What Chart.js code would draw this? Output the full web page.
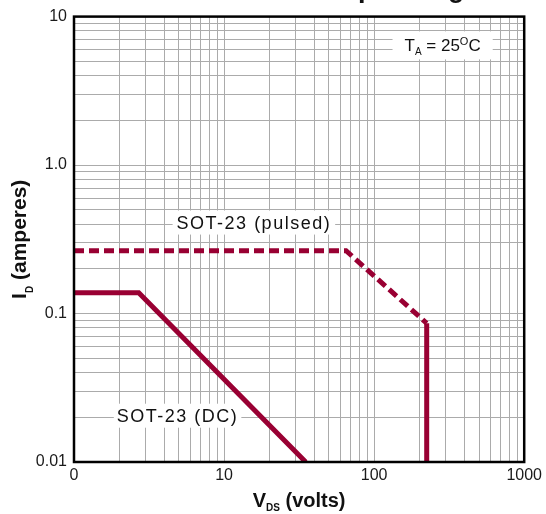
<!DOCTYPE html>
<html lang="en">
<head>
<meta charset="UTF-8">
<title>SOT-23 Safe Operating Area</title>
<style>
  body { margin: 0; background: #fff; }
  #wrap { position: relative; width: 546px; height: 514px; }
</style>
</head>
<body>
<div id="wrap"><canvas id="soaChart"></canvas></div>
<script src="https://cdn.jsdelivr.net/npm/chart.js"></script>
<script>
const xDecades = [1, 10, 100, 1000];
const xDecadeLabels = ['0', '10', '100', '1000'];
const yDecades = [0.01, 0.1, 1, 10];
const yDecadeLabels = ['0.01', '0.1', '1.0', '10'];

const dcVolts = [1, 2.7, 35];
const dcAmps = [0.138, 0.138, 0.01];
const pulsedVolts = [1, 65, 224];
const pulsedAmps = [0.265, 0.265, 0.086];
const limitVolts = [224, 224];
const limitAmps = [0.086, 0.01];

const lineColor = '#990033';
const gridColor = '#ababab';
const fontFamily = 'Arial, "Liberation Sans", Helvetica, sans-serif';

function toPoints(xs, ys) {
  return xs.map((x, i) => ({ x: x, y: ys[i] }));
}

// 1..9 in every decade, so each minor line gets drawn
function logGridTicks(decades) {
  const values = [];
  for (let i = 0; i < decades.length - 1; i++) {
    for (let m = 1; m <= 9; m++) values.push(decades[i] * m);
  }
  values.push(decades[decades.length - 1]);
  return values.map(v => ({ value: v }));
}

function decadeLabel(value, decades, labels) {
  for (let i = 0; i < decades.length; i++) {
    if (Math.abs(value - decades[i]) < decades[i] * 1e-6) return labels[i];
  }
  return '';
}

// text made of runs with their own size/offset (for sub/superscripts)
function runsWidth(ctx, runs) {
  let w = 0;
  runs.forEach(r => {
    ctx.font = (r.bold ? 'bold ' : '') + r.size + 'px ' + fontFamily;
    w += ctx.measureText(r.text).width;
  });
  return w;
}

function drawRuns(ctx, runs, x, y) {
  runs.forEach(r => {
    ctx.font = (r.bold ? 'bold ' : '') + r.size + 'px ' + fontFamily;
    ctx.fillText(r.text, x, y + (r.dy || 0));
    x += ctx.measureText(r.text).width;
  });
}

function boxedLabel(ctx, cx, cy, runs, capH, padX, boxH, spacing) {
  ctx.save();
  ctx.letterSpacing = spacing || '0px';
  ctx.textAlign = 'left';
  ctx.textBaseline = 'alphabetic';
  const w = runsWidth(ctx, runs);
  ctx.fillStyle = '#fff';
  ctx.fillRect(cx - w / 2 - padX, cy - boxH / 2, w + padX * 2, boxH);
  ctx.fillStyle = '#111';
  drawRuns(ctx, runs, cx - w / 2, cy + capH / 2);
  ctx.restore();
}

const decorPlugin = {
  id: 'decor',
  afterDatasetsDraw(chart) {
    const ctx = chart.ctx;
    const a = chart.chartArea;
    const xs = chart.scales.x;
    const ys = chart.scales.y;

    // frame
    ctx.save();
    ctx.strokeStyle = '#000';
    ctx.lineWidth = 2.5;
    ctx.strokeRect(a.left, a.top, a.right - a.left, a.bottom - a.top);
    ctx.restore();

    boxedLabel(ctx, xs.getPixelForValue(15.8), ys.getPixelForValue(0.41),
      [{ text: 'SOT-23 (pulsed)', size: 18 }], 13, 4, 24, '1.5px');
    boxedLabel(ctx, xs.getPixelForValue(4.9), ys.getPixelForValue(0.0205),
      [{ text: 'SOT-23 (DC)', size: 18 }], 13, 3, 24, '1.5px');
    boxedLabel(ctx, xs.getPixelForValue(286), ys.getPixelForValue(6.4), [
      { text: 'T', size: 17 },
      { text: 'A', size: 10, dy: 4 },
      { text: ' = 25', size: 17 },
      { text: 'O', size: 11, dy: -6 },
      { text: 'C', size: 17 }
    ], 12, 12, 28);
  },
  afterDraw(chart) {
    const ctx = chart.ctx;
    const a = chart.chartArea;
    ctx.save();
    ctx.fillStyle = '#111';
    ctx.textAlign = 'left';
    ctx.textBaseline = 'alphabetic';

    // x title
    const xRuns = [
      { text: 'V', size: 20, bold: true },
      { text: 'DS', size: 10, bold: true, dy: 4 },
      { text: ' (volts)', size: 20, bold: true }
    ];
    const xw = runsWidth(ctx, xRuns);
    drawRuns(ctx, xRuns, (a.left + a.right) / 2 - xw / 2, 507);

    // y title
    const yRuns = [
      { text: 'I', size: 21, bold: true },
      { text: 'D', size: 10, bold: true, dy: 7 },
      { text: ' (amperes)', size: 21, bold: true }
    ];
    const yw = runsWidth(ctx, yRuns);
    ctx.translate(26, (a.top + a.bottom) / 2);
    ctx.rotate(-Math.PI / 2);
    drawRuns(ctx, yRuns, -yw / 2, 0);
    ctx.restore();

    // title, cut off by the top edge
    ctx.save();
    ctx.fillStyle = '#111';
    ctx.font = 'bold 27px ' + fontFamily;
    ctx.textBaseline = 'alphabetic';
    const pre = ctx.measureText('Safe ').width;
    ctx.fillText('Safe Operating Area', 337 - pre, -3);
    ctx.restore();
  }
};

new Chart(document.getElementById('soaChart'), {
  type: 'line',
  data: {
    datasets: [
      {
        label: 'SOT-23 (DC)',
        data: toPoints(dcVolts, dcAmps),
        borderColor: lineColor,
        borderWidth: 5,
        pointRadius: 0,
        tension: 0,
        fill: false
      },
      {
        label: 'SOT-23 (pulsed)',
        data: toPoints(pulsedVolts, pulsedAmps),
        borderColor: lineColor,
        borderWidth: 5,
        borderDash: [10, 5],
        borderCapStyle: 'butt',
        pointRadius: 0,
        tension: 0,
        fill: false
      },
      {
        label: 'pulsed limit',
        data: toPoints(limitVolts, limitAmps),
        borderColor: lineColor,
        borderWidth: 5,
        pointRadius: 0,
        tension: 0,
        fill: false
      }
    ]
  },
  options: {
    responsive: true,
    maintainAspectRatio: false,
    animation: false,
    layout: { padding: { top: 14, right: 19, left: 0, bottom: 0 } },
    plugins: {
      legend: { display: false },
      tooltip: { enabled: false }
    },
    scales: {
      x: {
        type: 'logarithmic',
        min: 1,
        max: 1000,
        afterBuildTicks(scale) { scale.ticks = logGridTicks(xDecades); },
        afterFit(scale) { scale.height = 52; },
        grid: { color: gridColor, lineWidth: 1, drawTicks: false },
        border: { display: false },
        ticks: {
          autoSkip: false,
          maxRotation: 0,
          padding: 4,
          color: '#1a1a1a',
          font: { family: fontFamily, size: 16 },
          callback: v => decadeLabel(v, xDecades, xDecadeLabels)
        }
      },
      y: {
        type: 'logarithmic',
        min: 0.01,
        max: 10,
        afterBuildTicks(scale) { scale.ticks = logGridTicks(yDecades); },
        afterFit(scale) { scale.width = 74; },
        grid: { color: gridColor, lineWidth: 1, drawTicks: false },
        border: { display: false },
        ticks: {
          autoSkip: false,
          padding: 7,
          color: '#1a1a1a',
          font: { family: fontFamily, size: 16 },
          callback: v => decadeLabel(v, yDecades, yDecadeLabels)
        }
      }
    }
  },
  plugins: [decorPlugin]
});
</script>
</body>
</html>
